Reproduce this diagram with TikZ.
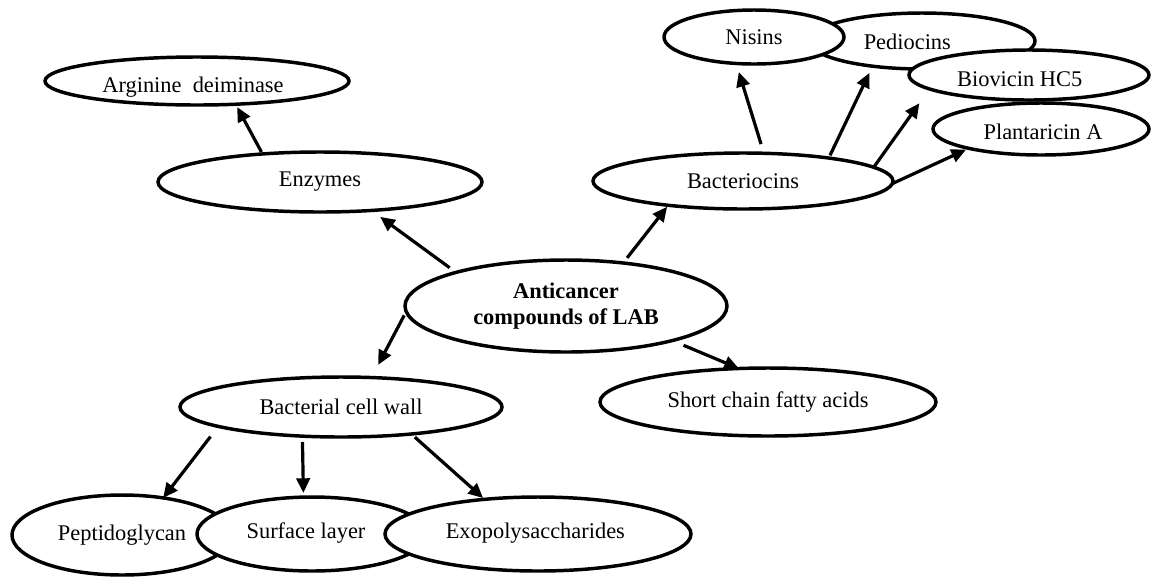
\documentclass[tikz,border=0pt]{standalone}
\usepackage{fontspec}
\setmainfont{Liberation Serif}
\usetikzlibrary{arrows.meta,shapes.geometric}
\begin{document}
\begin{tikzpicture}[x=0.75pt,y=-0.75pt,
  txt/.style={font=\fontsize{16.8}{19.5}\selectfont},
  ell/.style={ellipse,draw=black,line width=2.6pt,fill=white,inner sep=0pt,outer sep=0pt,txt},
  lab/.style={txt,inner sep=0pt},
  arr/.style={line width=2.4pt,-{Triangle[length=11pt,width=10pt]}}]
\useasboundingbox[fill=white] (0,0) rectangle (1152,576);
% nodes
\node[ell,minimum width=228pt,minimum height=36pt,
  label={[lab,xshift=-3pt,yshift=-4.5pt]center:Arginine\ \ deiminase}] (arg) at (197,81) {};
\node[ell,minimum width=243pt,minimum height=45pt] (enz) at (320,182) {\raisebox{-2pt}{Enzymes}};
\node[ell,minimum width=225pt,minimum height=42pt] (bac) at (743,181) {Bacteriocins};
\node[ell,minimum width=169.5pt,minimum height=42pt,
  label={[lab,xshift=-11pt,yshift=-0.75pt]center:Pediocins}] (ped) at (922,41) {};
\node[ell,minimum width=135pt,minimum height=40.5pt] (nis) at (754,37) {\raisebox{-3pt}{Nisins}};
\node[ell,minimum width=180pt,minimum height=37.5pt,
  label={[lab,xshift=-7pt,yshift=-3.5pt]center:Biovicin HC5}] (bio) at (1029,75) {};
\node[ell,minimum width=162pt,minimum height=39pt,
  label={[lab,xshift=1.5pt,yshift=-2pt]center:Plantaricin A}] (pla) at (1041,129) {};
\node[ell,minimum width=241.5pt,minimum height=69pt,align=center,
  font=\fontsize{16.8}{19.5}\selectfont\bfseries] (anti) at (566,306) {\raisebox{-3pt}{\parbox{170pt}{\centering Anticancer\\compounds of LAB}}};
\node[ell,minimum width=252pt,minimum height=51pt] (sc) at (768,402) {Short chain fatty acids};
\node[ell,minimum width=241.5pt,minimum height=45pt] (bcw) at (341,407) {\raisebox{-2pt}{Bacterial cell wall}};
\node[ell,minimum width=165pt,minimum height=60pt] (pep) at (122,535) {Peptidoglycan};
\node[ell,minimum width=172.5pt,minimum height=55.5pt,
  label={[lab,xshift=-4.5pt,yshift=0.5pt]center:Surface layer}] (sur) at (312,534) {};
\node[ell,minimum width=229.5pt,minimum height=55.5pt,
  label={[lab,xshift=-2pt,yshift=0.5pt]center:Exopolysaccharides}] (exo) at (538,534) {};
% connectors
\draw[arr,shorten <=1.7pt,shorten >=2.4pt] (enz.154.7) -- (arg.329.6);
\draw[arr,shorten <=6pt,shorten >=8.2pt] (anti.163.4) -- (enz.331);
\draw[arr,shorten <=4.9pt,shorten >=1.4pt] (anti.37.1) -- (bac.198.9);
\draw[arr,shorten <=3.2pt,shorten >=10.7pt] (anti.182.6) -- (bcw.44.5);
\draw[arr,shorten <=9.1pt,shorten >=0pt] (anti.342.4) -- (sc.131);
\draw[arr,shorten <=7.2pt,shorten >=6.7pt] (bac.53.2) -- (nis.236.4);
\draw[arr,shorten <=2.2pt,shorten >=5.6pt] (bac.15.8) -- (ped.207.6);
\draw[arr,shorten <=0.8pt,shorten >=13.1pt] (bac.6.8) -- (bio.188.4);
\draw[arr,shorten <=0pt,shorten >=2.3pt] (bac.359.6) -- (pla.195.8);
\draw[arr,shorten <=9.6pt,shorten >=0pt] (bcw.189.5) -- (pep.42.1);
\draw[arr,shorten <=4.4pt,shorten >=3.1pt] (bcw.217.5) -- (sur.103.7);
\draw[arr,shorten <=3.6pt,shorten >=1.5pt] (bcw.339.7) -- (exo.147);
\end{tikzpicture}
\end{document}
